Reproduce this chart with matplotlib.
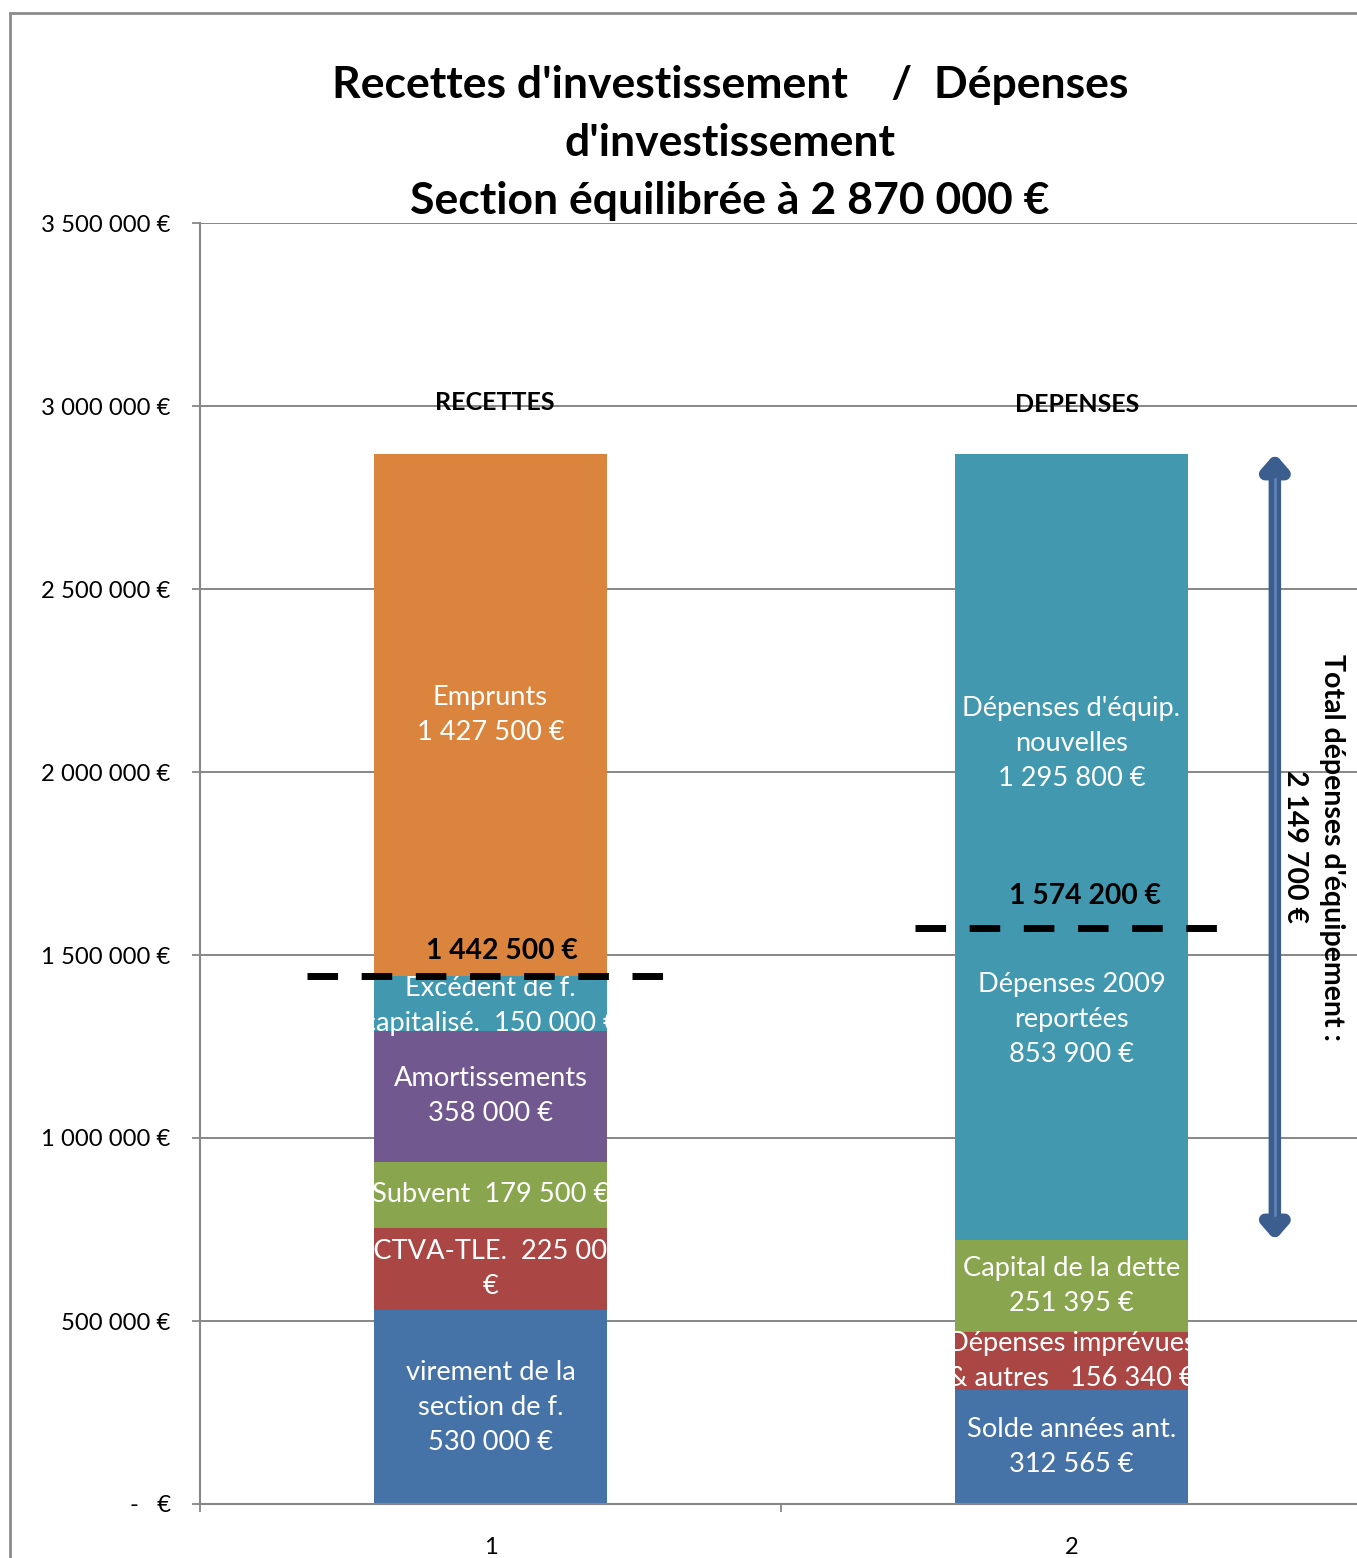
import matplotlib
matplotlib.use("Agg")
import matplotlib.pyplot as plt
from matplotlib.patches import Rectangle
from matplotlib.ticker import FuncFormatter

plt.rcParams['font.family'] = ['Lato', 'DejaVu Sans']

# --- data -------------------------------------------------------------
categories = ["1", "2"]
group_names = ["RECETTES", "DEPENSES"]

recettes_values = [530000, 225000, 179500, 358000, 150000, 1427500]
recettes_labels = ["virement de la\nsection de f.\n530 000 €",
                   "FCTVA-TLE.  225 000\n€",
                   "Subvent  179 500 €",
                   "Amortissements\n358 000 €",
                   "Excédent de f.\ncapitalisé.  150 000 €",
                   "Emprunts\n1 427 500 €"]

depenses_values = [312565, 156340, 251395, 853900, 1295800]
depenses_labels = ["Solde années ant.\n312 565 €",
                   "Dépenses imprévues\n& autres   156 340 €",
                   "Capital de la dette\n251 395 €",
                   "Dépenses 2009\nreportées\n853 900 €",
                   "Dépenses d'équip.\nnouvelles\n1 295 800 €"]

recettes_threshold = 1442500
depenses_threshold = 1574200
total_equipement = 2149700

yticks = [0, 500000, 1000000, 1500000, 2000000, 2500000, 3000000, 3500000]

# --- style ------------------------------------------------------------
BLUE, RED, GREEN, PURPLE, TEAL, ORANGE = ("#4572A7", "#AA4643", "#89A54E",
                                          "#71588F", "#4198AF", "#DB843D")
recettes_colors = [BLUE, RED, GREEN, PURPLE, TEAL, ORANGE]
depenses_colors = [BLUE, RED, GREEN, TEAL, TEAL]
# manual vertical placement for some labels (None = centred in segment)
depenses_label_y = [None, None, None, 1325000, 2077000]
recettes_label_y = [None, None, None, None, 1360000, None]

GRID = "#878787"
W, H = 1357, 1558
fig = plt.figure(figsize=(W / 100, H / 100), dpi=100)
ax = fig.add_axes([200 / W, 54 / H, 1162 / W, 1281 / H])

ax.set_xlim(0.5, 2.5)
ax.set_ylim(0, 3500000)
ax.set_yticks(yticks)


def euro(v, _pos=None):
    if v == 0:
        return "-   €"
    return f"{int(v):,}".replace(",", " ") + " €"


ax.yaxis.set_major_formatter(FuncFormatter(euro))
ax.tick_params(axis='y', labelsize=17.2, length=6, width=1.3, color=GRID,
               direction='out', pad=15)
ax.set_xticks([0.5, 1.5, 2.5])
ax.set_xticklabels([])
ax.set_xticks([1, 2], minor=True)
ax.set_xticklabels(categories, minor=True)
ax.tick_params(axis='x', which='major', length=6, width=1.3, color=GRID,
               direction='out')
ax.tick_params(axis='x', which='minor', length=0, labelsize=17, pad=24)

ax.grid(axis='y', color=GRID, lw=1.4)
ax.set_axisbelow(True)
for side in ("top", "right"):
    ax.spines[side].set_visible(False)
for side in ("left", "bottom"):
    ax.spines[side].set_color(GRID)
    ax.spines[side].set_linewidth(1.5)

BAR_W = 0.4


def stacked(xpos, values, colors, labels, label_y):
    bottom = 0
    for v, c, lab, ly in zip(values, colors, labels, label_y):
        rect = ax.bar(xpos, v, BAR_W, bottom=bottom, color=c,
                      edgecolor='none', zorder=2)[0]
        y = bottom + v / 2 if ly is None else ly
        t = ax.text(xpos, y, lab, ha='center', va='center',
                    multialignment='center', color='white', fontsize=19.6,
                    linespacing=1.5, zorder=3)
        t.set_clip_path(rect)
        bottom += v
    return bottom


stacked(1, recettes_values, recettes_colors, recettes_labels, recettes_label_y)
top = stacked(2, depenses_values, depenses_colors, depenses_labels,
              depenses_label_y)

# group titles above the bars
ax.text(1.008, 3010000, group_names[0], ha='center', va='center',
        fontsize=18, fontweight='bold')
ax.text(2.01, 3005000, group_names[1], ha='center', va='center',
        fontsize=18, fontweight='bold')

# dashed threshold lines with their values
dash = dict(color='black', lw=5, dashes=(4.4, 3.4), zorder=4,
            solid_capstyle='butt', dash_capstyle='butt')
ax.plot([0.684, 1.300], [recettes_threshold] * 2, **dash)
ax.plot([1.731, 2.268], [depenses_threshold] * 2, **dash)
ax.annotate(euro(recettes_threshold), (1.019, recettes_threshold),
            xytext=(0, 25), textcoords='offset pixels', ha='center',
            va='center', fontsize=20.3, fontweight='bold', zorder=5)
ax.annotate(euro(depenses_threshold), (2.024, depenses_threshold),
            xytext=(0, 32), textcoords='offset pixels', ha='center',
            va='center', fontsize=20.3, fontweight='bold', zorder=5)

# double arrow spanning the equipment expenditure
eq_bottom = top - total_equipement
ax.annotate('', xy=(2.35, top), xytext=(2.35, eq_bottom),
            arrowprops=dict(arrowstyle='<|-|>,head_length=0.8,head_width=0.7',
                            lw=9, color='#3B5E8F', shrinkA=0, shrinkB=0),
            zorder=4)
ax.plot([2.35, 2.35], [eq_bottom + 70000, top - 70000], color='#5F86BC',
        lw=1.8, zorder=5)
mid = eq_bottom + total_equipement / 2
ax.text(2.448, mid, "Total dépenses d'équipement :", rotation=-90,
        ha='center', va='center', fontsize=20.5, fontweight='bold')
ax.text(2.385, mid, euro(total_equipement), rotation=-90,
        ha='center', va='center', fontsize=20.5, fontweight='bold')

# title
fig.text(730 / W, 1 - 143 / H,
         "Recettes d'investissement    /  Dépenses\nd'investissement\n"
         "Section équilibrée à 2 870 000 €",
         ha='center', va='center', fontsize=32, fontweight='bold',
         linespacing=1.56)

# chart frame
fig.patches.append(Rectangle((10 / W, -0.1), 1.2, 1 - 13 / H + 0.1,
                             transform=fig.transFigure, fill=False,
                             edgecolor='#8C8C8C', lw=2))

fig.savefig("out.png", dpi=100)
